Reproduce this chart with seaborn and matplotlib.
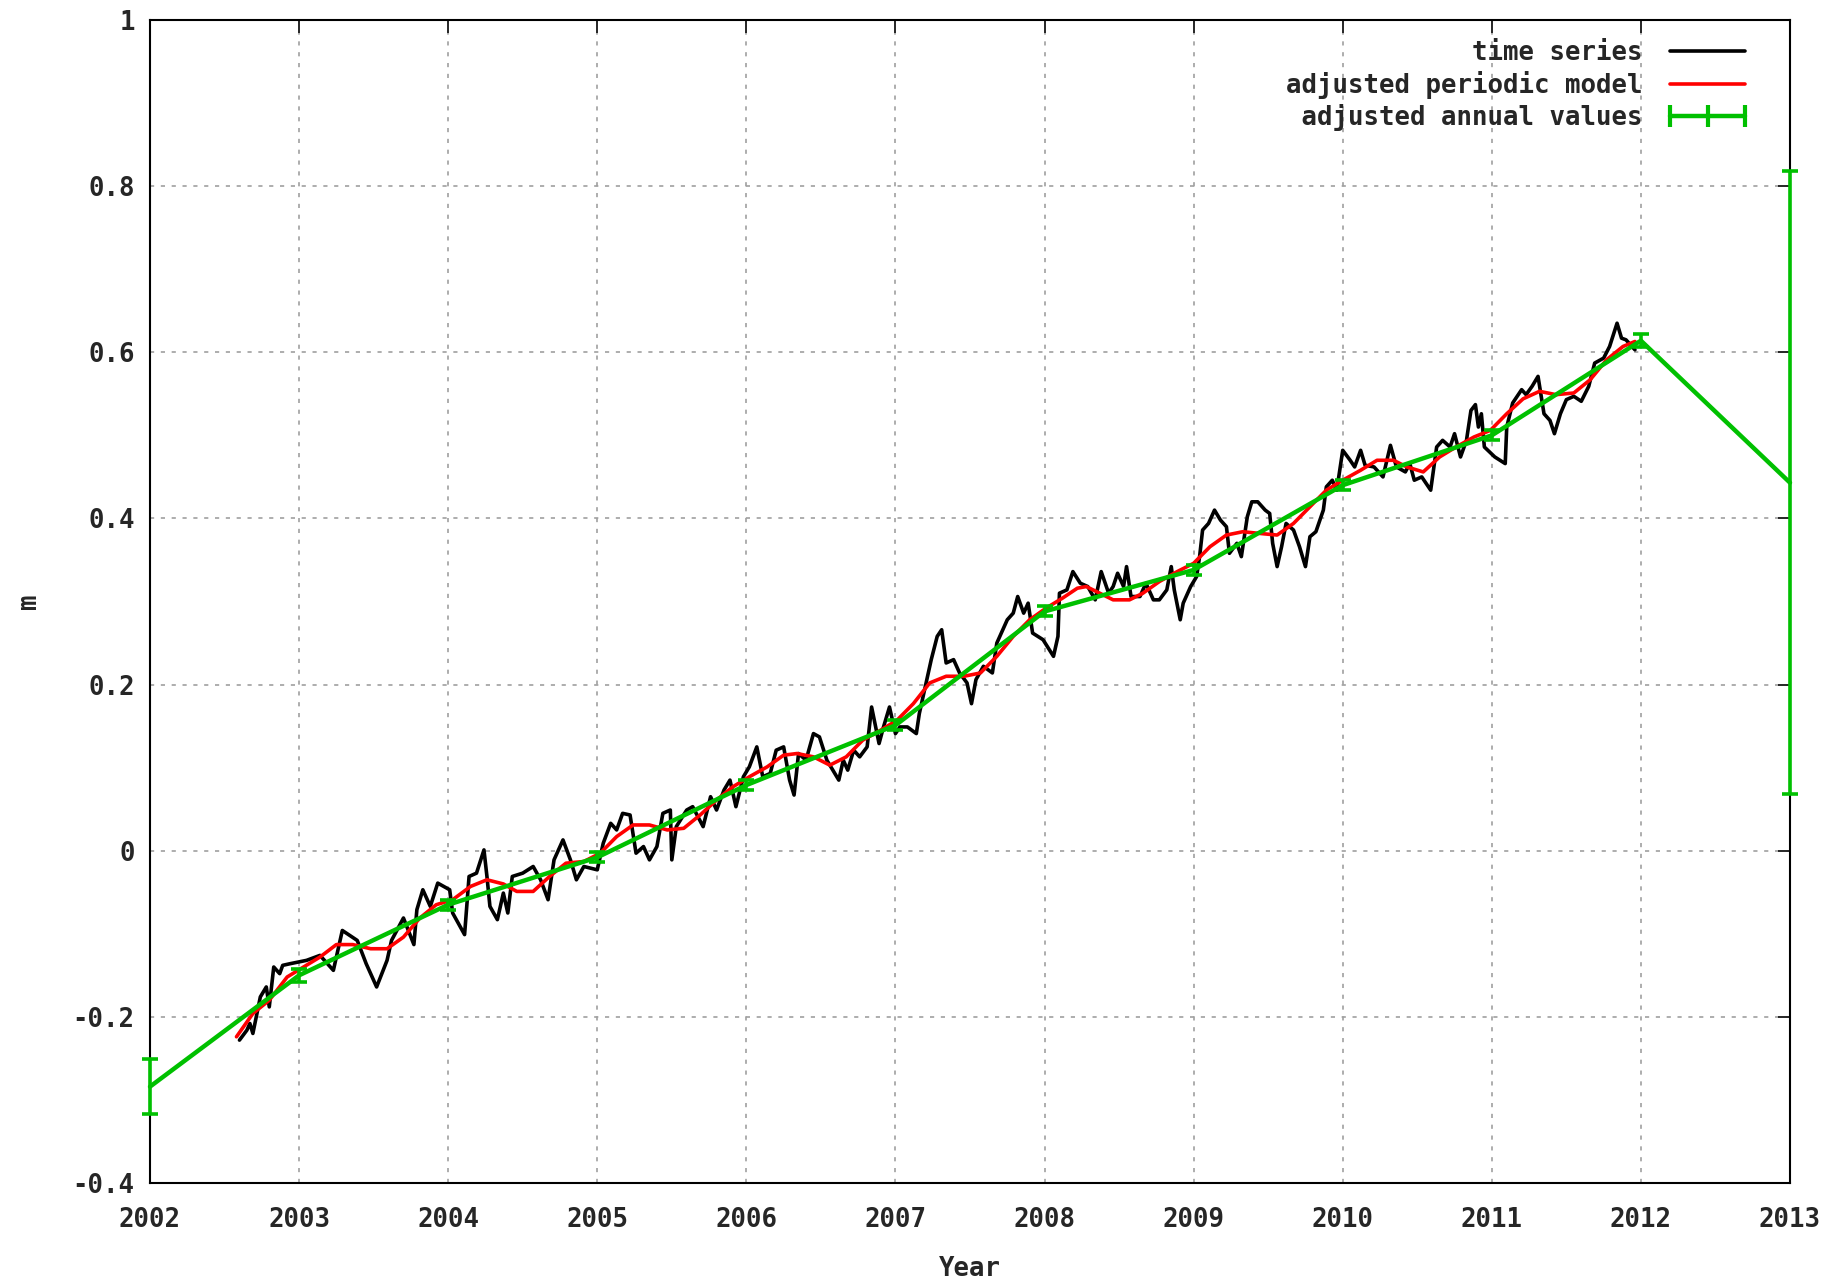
import numpy as np
import pandas as pd
import matplotlib
matplotlib.use("Agg")
import matplotlib.pyplot as plt
from matplotlib.lines import Line2D
import seaborn as sns

# 数据：时间序列（年，m）
ts_year = [2002.60, 2002.65, 2002.67, 2002.69, 2002.74, 2002.78, 2002.80, 2002.83, 2002.87, 2002.89,
           2002.94, 2003.05, 2003.14, 2003.23, 2003.29, 2003.39, 2003.45, 2003.52, 2003.59, 2003.62,
           2003.70, 2003.77, 2003.79, 2003.83, 2003.88, 2003.93, 2004.01, 2004.03, 2004.11, 2004.14,
           2004.19, 2004.24, 2004.26, 2004.28, 2004.33, 2004.37, 2004.40, 2004.43, 2004.50, 2004.57,
           2004.62, 2004.67, 2004.71, 2004.77, 2004.82, 2004.86, 2004.91, 2005.00, 2005.04, 2005.09,
           2005.13, 2005.17, 2005.22, 2005.26, 2005.31, 2005.35, 2005.40, 2005.44, 2005.49, 2005.50,
           2005.53, 2005.60, 2005.64, 2005.71, 2005.76, 2005.80, 2005.85, 2005.89, 2005.93, 2005.98,
           2006.02, 2006.07, 2006.11, 2006.16, 2006.20, 2006.25, 2006.29, 2006.32, 2006.35, 2006.40,
           2006.45, 2006.49, 2006.54, 2006.62, 2006.65, 2006.68, 2006.72, 2006.76, 2006.81, 2006.84,
           2006.89, 2006.92, 2006.96, 2007.00, 2007.03, 2007.08, 2007.14, 2007.16, 2007.21, 2007.24,
           2007.28, 2007.31, 2007.34, 2007.39, 2007.43, 2007.48, 2007.51, 2007.54, 2007.59, 2007.65,
           2007.68, 2007.75, 2007.79, 2007.82, 2007.86, 2007.89, 2007.92, 2007.99, 2008.06, 2008.09,
           2008.10, 2008.15, 2008.19, 2008.24, 2008.29, 2008.34, 2008.38, 2008.43, 2008.46, 2008.49,
           2008.53, 2008.55, 2008.58, 2008.64, 2008.68, 2008.73, 2008.77, 2008.82, 2008.85, 2008.87,
           2008.91, 2008.93, 2008.98, 2009.02, 2009.04, 2009.06, 2009.10, 2009.14, 2009.18, 2009.22,
           2009.24, 2009.29, 2009.32, 2009.36, 2009.39, 2009.43, 2009.48, 2009.51, 2009.53, 2009.56,
           2009.59, 2009.62, 2009.67, 2009.71, 2009.75, 2009.78, 2009.82, 2009.87, 2009.89, 2009.93,
           2009.96, 2010.00, 2010.05, 2010.08, 2010.12, 2010.15, 2010.21, 2010.27, 2010.32, 2010.36,
           2010.42, 2010.45, 2010.48, 2010.53, 2010.59, 2010.63, 2010.67, 2010.72, 2010.75, 2010.79,
           2010.83, 2010.86, 2010.89, 2010.91, 2010.93, 2010.95, 2011.02, 2011.09, 2011.10, 2011.14,
           2011.20, 2011.23, 2011.27, 2011.31, 2011.35, 2011.39, 2011.42, 2011.46, 2011.50, 2011.55,
           2011.60, 2011.65, 2011.69, 2011.75, 2011.79, 2011.84, 2011.87, 2011.90, 2011.96]
ts_val = [-0.228, -0.216, -0.208, -0.220, -0.176, -0.164, -0.188, -0.140, -0.148, -0.138,
          -0.136, -0.132, -0.126, -0.144, -0.096, -0.108, -0.136, -0.164, -0.132, -0.108,
          -0.081, -0.113, -0.071, -0.047, -0.067, -0.039, -0.047, -0.075, -0.101, -0.031,
          -0.027, 0.001, -0.031, -0.067, -0.083, -0.051, -0.075, -0.031, -0.027, -0.019,
          -0.035, -0.059, -0.011, 0.013, -0.011, -0.035, -0.019, -0.023, 0.009, 0.033,
          0.025, 0.045, 0.043, -0.003, 0.005, -0.011, 0.005, 0.045, 0.049, -0.011,
          0.029, 0.049, 0.053, 0.029, 0.065, 0.049, 0.073, 0.085, 0.053, 0.089,
          0.101, 0.125, 0.089, 0.093, 0.121, 0.125, 0.085, 0.067, 0.117, 0.109,
          0.141, 0.137, 0.109, 0.085, 0.109, 0.097, 0.121, 0.113, 0.125, 0.173,
          0.129, 0.149, 0.173, 0.141, 0.149, 0.149, 0.141, 0.165, 0.206, 0.230,
          0.258, 0.266, 0.226, 0.230, 0.214, 0.202, 0.177, 0.206, 0.222, 0.214,
          0.250, 0.278, 0.286, 0.306, 0.286, 0.298, 0.262, 0.254, 0.234, 0.258,
          0.310, 0.314, 0.336, 0.322, 0.318, 0.302, 0.336, 0.310, 0.318, 0.334,
          0.318, 0.342, 0.306, 0.306, 0.322, 0.302, 0.302, 0.314, 0.342, 0.314,
          0.278, 0.298, 0.318, 0.330, 0.354, 0.386, 0.394, 0.410, 0.398, 0.390,
          0.358, 0.370, 0.354, 0.402, 0.420, 0.420, 0.410, 0.406, 0.370, 0.342,
          0.366, 0.394, 0.386, 0.366, 0.342, 0.378, 0.384, 0.410, 0.438, 0.446,
          0.434, 0.482, 0.470, 0.462, 0.482, 0.464, 0.462, 0.450, 0.488, 0.462,
          0.456, 0.466, 0.446, 0.450, 0.434, 0.486, 0.494, 0.486, 0.502, 0.474,
          0.494, 0.530, 0.537, 0.510, 0.526, 0.486, 0.474, 0.466, 0.510, 0.539,
          0.555, 0.549, 0.559, 0.571, 0.526, 0.518, 0.502, 0.526, 0.543, 0.547,
          0.541, 0.559, 0.587, 0.593, 0.607, 0.635, 0.617, 0.615, 0.603]

# 周期模型（红线）
pm_year = [2002.58, 2002.69, 2002.80, 2002.92, 2003.03, 2003.14, 2003.25, 2003.36, 2003.48, 2003.59,
           2003.70, 2003.81, 2003.92, 2004.03, 2004.15, 2004.26, 2004.37, 2004.46, 2004.57, 2004.68,
           2004.79, 2004.91, 2005.02, 2005.13, 2005.24, 2005.35, 2005.47, 2005.58, 2005.69, 2005.80,
           2005.91, 2006.02, 2006.14, 2006.25, 2006.34, 2006.45, 2006.56, 2006.67, 2006.78, 2006.90,
           2007.01, 2007.12, 2007.23, 2007.34, 2007.46, 2007.57, 2007.68, 2007.79, 2007.90, 2008.01,
           2008.12, 2008.22, 2008.28, 2008.37, 2008.46, 2008.57, 2008.66, 2008.77, 2008.89, 2009.00,
           2009.11, 2009.22, 2009.33, 2009.44, 2009.56, 2009.67, 2009.78, 2009.89, 2010.00, 2010.12,
           2010.23, 2010.34, 2010.43, 2010.54, 2010.65, 2010.76, 2010.88, 2010.99, 2011.10, 2011.21,
           2011.32, 2011.43, 2011.55, 2011.66, 2011.77, 2011.88, 2011.96]
pm_val = [-0.224, -0.196, -0.180, -0.152, -0.140, -0.128, -0.113, -0.113, -0.118, -0.118,
          -0.104, -0.081, -0.065, -0.059, -0.043, -0.035, -0.040, -0.049, -0.049, -0.031,
          -0.015, -0.013, -0.003, 0.017, 0.031, 0.031, 0.025, 0.027, 0.043, 0.061,
          0.077, 0.089, 0.101, 0.115, 0.117, 0.113, 0.103, 0.113, 0.133, 0.145,
          0.157, 0.177, 0.202, 0.210, 0.210, 0.214, 0.234, 0.258, 0.278, 0.292,
          0.304, 0.316, 0.318, 0.310, 0.302, 0.302, 0.310, 0.324, 0.336, 0.346,
          0.366, 0.380, 0.384, 0.382, 0.380, 0.394, 0.414, 0.434, 0.446, 0.458,
          0.470, 0.470, 0.462, 0.456, 0.474, 0.486, 0.498, 0.506, 0.526, 0.544,
          0.553, 0.549, 0.551, 0.567, 0.591, 0.607, 0.613]

# 年均值（绿线）及误差
ann_year = [2002, 2003, 2004, 2005, 2006, 2007, 2008, 2009, 2010, 2011, 2012, 2013]
ann_val = [-0.284, -0.150, -0.065, -0.008, 0.079, 0.151, 0.288, 0.338, 0.440, 0.500, 0.614, 0.443]
ann_err = [0.033, 0.008, 0.006, 0.006, 0.006, 0.006, 0.006, 0.006, 0.006, 0.006, 0.008, 0.375]

labels = ["time series", "adjusted periodic model", "adjusted annual values"]
x_ticks = list(range(2002, 2014))
y_ticks = [-0.4, -0.2, 0, 0.2, 0.4, 0.6, 0.8, 1]

GREEN = "#00c000"
FS = 18.5

sns.set_style("white")
plt.rcParams['font.family'] = ['DejaVu Sans Mono', 'DejaVu Sans']
plt.rcParams['font.weight'] = 'bold'
plt.rcParams['axes.unicode_minus'] = False

fig = plt.figure(figsize=(18.42, 12.87), dpi=100)
ax = fig.add_axes([150 / 1842, 1 - 1183 / 1287, 1640 / 1842, 1163 / 1287])

df_ts = pd.DataFrame({"year": ts_year, "m": ts_val})
df_pm = pd.DataFrame({"year": pm_year, "m": pm_val})
sns.lineplot(data=df_ts, x="year", y="m", color="black", linewidth=2.6, ax=ax,
             estimator=None, sort=False, zorder=3)
sns.lineplot(data=df_pm, x="year", y="m", color="#ff0000", linewidth=2.6, ax=ax,
             estimator=None, sort=False, zorder=4)
ax.errorbar(ann_year, ann_val, yerr=ann_err, color=GREEN, linewidth=3.2,
            elinewidth=2.6, capsize=6, capthick=2.6, zorder=5, clip_on=False)

ax.set_xlim(2002, 2013)
ax.set_ylim(-0.4, 1)
ax.set_xticks(x_ticks)
ax.set_xticklabels([str(v) for v in x_ticks])
ax.set_yticks(y_ticks)
ax.set_yticklabels([f"{v:g}" for v in y_ticks])

ax.grid(True, color="#a0a0a0", linestyle=(0, (2.5, 4)), linewidth=1.2)
ax.tick_params(direction="in", length=9, width=1.4, top=True, right=True,
               labelsize=FS, pad=11)
ax.tick_params(axis="x", pad=17)
for sp in ax.spines.values():
    sp.set_visible(True)
    sp.set_color("black")
    sp.set_linewidth(1.5)

ax.set_xlabel("Year", fontsize=FS, fontweight="bold", labelpad=17)
ax.set_ylabel("m", fontsize=FS, fontweight="bold", labelpad=22)

# 图例：等宽字体下用空格补齐实现右对齐，绿色样例两端和中间带竖线
w = max(len(s) for s in labels)
lab = [s.rjust(w) for s in labels]
handles = [Line2D([], [], color="black", linewidth=2.6),
           Line2D([], [], color="#ff0000", linewidth=2.6),
           Line2D([], [], color=GREEN, linewidth=3.2, marker="|",
                  markersize=16, markeredgewidth=3.0)]
leg = ax.legend(handles, lab, loc="upper right", bbox_to_anchor=(0.985, 0.994),
                frameon=False, markerfirst=False, fontsize=FS, handlelength=3.5,
                handletextpad=0.8, labelspacing=0.2, borderpad=0, numpoints=3)

fig.savefig("out.png", dpi=100)
